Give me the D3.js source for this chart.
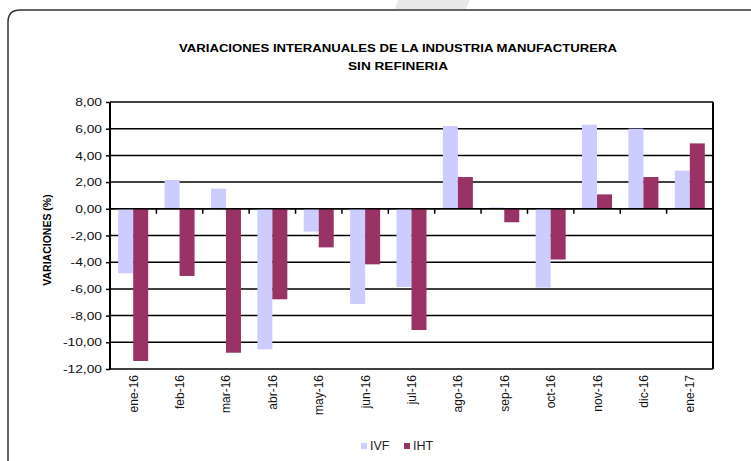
<!doctype html>
<html>
<head>
    <meta charset="utf-8">
    <script src="https://d3js.org/d3.v7.min.js"></script>
    <style>
        body { margin: 0; background: #fff; }
        svg { display: block; font-family: "Liberation Sans", Arial, sans-serif; }
    </style>
</head>
<body>

    <svg width="751" height="461"></svg>

    <script>

        var months = ["ene-16", "feb-16", "mar-16", "abr-16", "may-16", "jun-16", "jul-16",
                      "ago-16", "sep-16", "oct-16", "nov-16", "dic-16", "ene-17"];
        var ivf = [-4.83, 2.16, 1.51, -10.53, -1.71, -7.13, -5.86, 6.2, 0.1, -5.9, 6.3, 6.0, 2.86];
        var iht = [-11.4, -5.03, -10.78, -6.78, -2.89, -4.16, -9.08, 2.38, -1.01, -3.8, 1.08, 2.38, 4.9];
        var seriesNames = ["IVF", "IHT"];
        var colors = ["#ccccff", "#993366"];
        var yTicks = [8, 6, 4, 2, 0, -2, -4, -6, -8, -10, -12];

        var svg = d3.select("svg");

        // light watermark shape at the top
        svg.append("polygon")
            .attr("points", "398,0 470,0 466,9 395,9")
            .attr("fill", "#e8e8e8");

        // outer frame (rounded corner top-left, runs off the page)
        svg.append("path")
            .attr("d", "M8,470 L8,22 Q8,10 20,10 L760,10")
            .attr("fill", "none")
            .attr("stroke", "#333")
            .attr("stroke-width", 1.5);

        // title (the source image is a bit stretched horizontally)
        var title = svg.append("text")
            .attr("text-anchor", "middle")
            .attr("font-weight", "bold")
            .attr("font-size", "11.5px")
            .attr("fill", "#000");
        title.append("tspan").attr("x", 398).attr("y", 52)
            .attr("textLength", 438).attr("lengthAdjust", "spacingAndGlyphs")
            .text("VARIACIONES INTERANUALES DE LA INDUSTRIA MANUFACTURERA");
        title.append("tspan").attr("x", 398).attr("y", 70)
            .attr("textLength", 100).attr("lengthAdjust", "spacingAndGlyphs")
            .text("SIN REFINERIA");

        var plotL = 110, plotR = 713, plotT = 102, plotB = 369;

        var x = d3.scaleBand().domain(months).range([plotL, plotR]).padding(0);
        var xSub = d3.scaleBand().domain(seriesNames)
            .range([x.bandwidth() / 2 - 15, x.bandwidth() / 2 + 15]);
        var y = d3.scaleLinear().domain([-12, 8]).range([plotB, plotT]);

        // y labels with small outward ticks
        var yAxis = svg.append("g")
            .attr("transform", "translate(" + plotL + ",0)")
            .call(d3.axisLeft(y).tickValues(yTicks)
                .tickSize(4)
                .tickFormat(function(d) { return d3.format(".2f")(d).replace(".", ",").replace("−", "-"); }));
        yAxis.select(".domain").remove();
        yAxis.selectAll(".tick line").attr("stroke", "#000").attr("stroke-width", 1.5);
        yAxis.selectAll(".tick text")
            .attr("font-size", "11.5px")
            .attr("font-family", "Liberation Sans, Arial, sans-serif")
            .attr("fill", "#111")
            .attr("x", -8 / 1.2)
            .attr("transform", "scale(1.2,1)");

        // gridlines
        svg.append("g")
            .selectAll("line")
            .data(yTicks)
            .enter().append("line")
            .attr("x1", plotL)
            .attr("x2", plotR)
            .attr("y1", function(d) { return y(d); })
            .attr("y2", function(d) { return y(d); })
            .attr("stroke", "#000")
            .attr("stroke-width", 1.5);

        // bars
        var rows = months.map(function(m, i) { return {month: m, vals: [ivf[i], iht[i]]}; });
        var groups = svg.append("g").selectAll("g")
            .data(rows)
            .enter().append("g")
            .attr("transform", function(d) { return "translate(" + x(d.month) + ",0)"; });
        groups.selectAll("rect")
            .data(function(d) { return d.vals.map(function(v, j) { return {name: seriesNames[j], value: v, color: colors[j]}; }); })
            .enter().append("rect")
            .attr("x", function(d) { return xSub(d.name); })
            .attr("width", xSub.bandwidth())
            .attr("y", function(d) { return y(Math.max(0, d.value)); })
            .attr("height", function(d) { return Math.abs(y(d.value) - y(0)); })
            .attr("fill", function(d) { return d.color; });

        // plot border: left + right
        svg.append("line").attr("x1", plotL).attr("x2", plotL).attr("y1", plotT).attr("y2", plotB)
            .attr("stroke", "#000").attr("stroke-width", 2);
        svg.append("line").attr("x1", plotR).attr("x2", plotR).attr("y1", plotT).attr("y2", plotB)
            .attr("stroke", "#000").attr("stroke-width", 2);

        // zero axis with category ticks
        var zeroAxis = svg.append("g")
            .attr("transform", "translate(0," + y(0) + ")");
        zeroAxis.append("line")
            .attr("x1", plotL).attr("x2", plotR)
            .attr("stroke", "#000").attr("stroke-width", 1.5);
        zeroAxis.selectAll(".cat-tick")
            .data(months)
            .enter().append("line")
            .attr("class", "cat-tick")
            .attr("x1", function(d) { return x(d) + x.step(); })
            .attr("x2", function(d) { return x(d) + x.step(); })
            .attr("y1", 0).attr("y2", 5)
            .attr("stroke", "#000").attr("stroke-width", 1.5);

        // month labels under the plot
        svg.append("g")
            .selectAll("text")
            .data(months)
            .enter().append("text")
            .attr("transform", function(d) { return "translate(" + (x(d) + x.bandwidth() / 2 + 4.5) + "," + (plotB + 6) + ") rotate(-90)"; })
            .attr("text-anchor", "end")
            .attr("font-size", "12px")
            .attr("fill", "#111")
            .text(function(d) { return d; });

        // y axis title
        svg.append("text")
            .attr("transform", "translate(51,240) rotate(-90)")
            .attr("text-anchor", "middle")
            .attr("font-weight", "bold")
            .attr("font-size", "10.5px")
            .text("VARIACIONES (%)");

        // legend
        var legend = svg.append("g").selectAll("g")
            .data(seriesNames)
            .enter().append("g")
            .attr("transform", function(d, i) { return "translate(" + (361 + i * 43) + ",443)"; });
        legend.append("rect")
            .attr("width", 6).attr("height", 6)
            .attr("fill", function(d, i) { return colors[i]; });
        legend.append("text")
            .attr("x", 9).attr("y", 7)
            .attr("font-size", "12.5px")
            .attr("fill", "#222")
            .text(function(d) { return d; });

    </script>
</body>
</html>
